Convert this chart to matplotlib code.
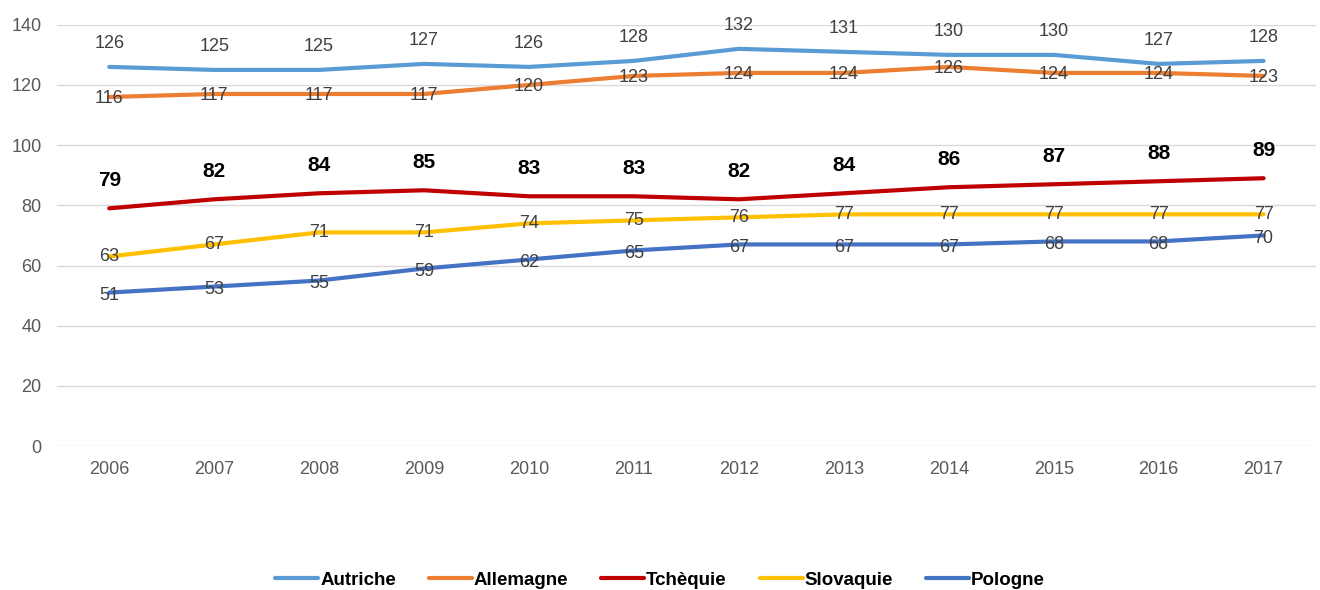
import matplotlib
matplotlib.use("Agg")
import matplotlib.pyplot as plt

years = ["2006", "2007", "2008", "2009", "2010", "2011",
         "2012", "2013", "2014", "2015", "2016", "2017"]
autriche = [126, 125, 125, 127, 126, 128, 132, 131, 130, 130, 127, 128]
allemagne = [116, 117, 117, 117, 120, 123, 124, 124, 126, 124, 124, 123]
tchequie = [79, 82, 84, 85, 83, 83, 82, 84, 86, 87, 88, 89]
slovaquie = [63, 67, 71, 71, 74, 75, 76, 77, 77, 77, 77, 77]
pologne = [51, 53, 55, 59, 62, 65, 67, 67, 67, 68, 68, 70]

plt.rcParams['font.family'] = ['Liberation Sans', 'DejaVu Sans']

fig = plt.figure(figsize=(13.2, 5.9), dpi=100)
ax = fig.add_axes([0.043, 0.244, 0.954, 0.714])

x = range(len(years))
series = [
    ("Autriche", autriche, "#5B9BD5"),
    ("Allemagne", allemagne, "#ED7D31"),
    ("Tchèquie", tchequie, "#C00000"),
    ("Slovaquie", slovaquie, "#FFC000"),
    ("Pologne", pologne, "#4472C4"),
]
for name, vals, col in series:
    ax.plot(x, vals, color=col, lw=3, label=name, solid_capstyle='round')

# data labels
grey = '#404040'
for i, v in enumerate(autriche):
    ax.annotate(str(v), (i, v), xytext=(0, 17), textcoords='offset points',
                ha='center', va='center', fontsize=13, color=grey)
for i, v in enumerate(allemagne):
    ax.annotate(str(v), (i, v), xytext=(0, -1), textcoords='offset points',
                ha='center', va='center', fontsize=13, color=grey)
for i, v in enumerate(tchequie):
    ax.annotate(str(v), (i, v), xytext=(0, 20), textcoords='offset points',
                ha='center', va='center', fontsize=15, color='black',
                fontweight='bold')
for i, v in enumerate(slovaquie):
    ax.annotate(str(v), (i, v), xytext=(0, 0), textcoords='offset points',
                ha='center', va='center', fontsize=13, color=grey)
for i, v in enumerate(pologne):
    ax.annotate(str(v), (i, v), xytext=(0, -2), textcoords='offset points',
                ha='center', va='center', fontsize=13, color=grey)

ax.set_xlim(-0.5, len(years) - 0.5)
ax.set_ylim(0, 140)
ax.set_yticks(range(0, 141, 20))
ax.set_xticks(list(x))
ax.set_xticklabels(years)
ax.tick_params(axis='both', length=0, labelsize=13, colors='#595959')
ax.tick_params(axis='x', pad=11)
ax.tick_params(axis='y', pad=11)
ax.grid(axis='y', color='#D9D9D9', lw=1)
ax.set_axisbelow(True)
for s in ax.spines.values():
    s.set_visible(False)

leg = fig.legend(loc='center', bbox_to_anchor=(0.5, 0.017), ncol=5,
                 frameon=False, handlelength=2.3, columnspacing=1.75,
                 handletextpad=0.1,
                 prop={'size': 13.5, 'weight': 'bold'})

fig.savefig("out.png", dpi=100)
